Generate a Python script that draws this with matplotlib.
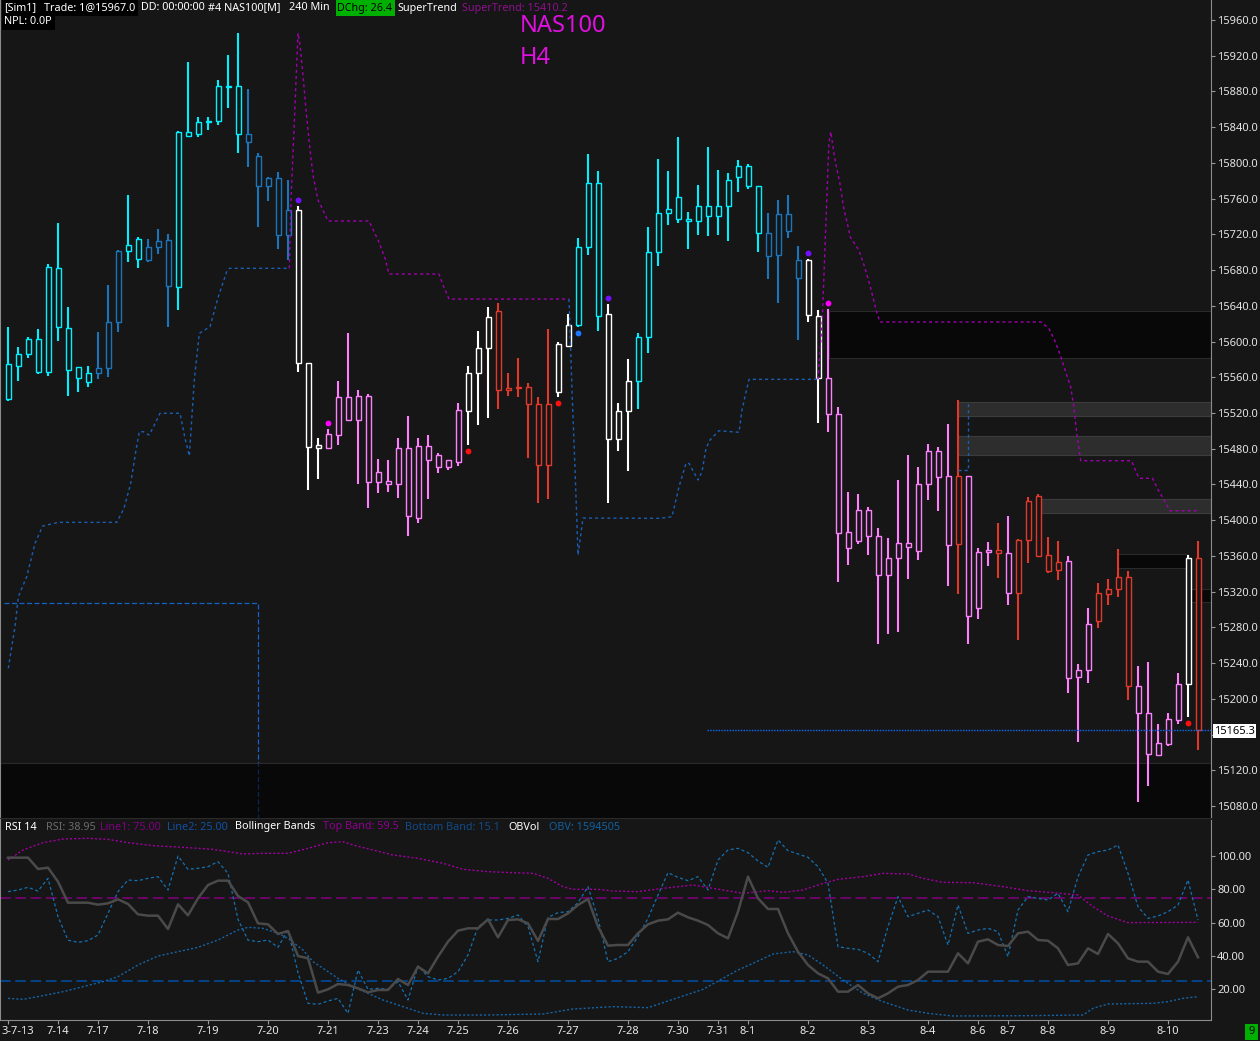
import numpy as np
import matplotlib
matplotlib.use("Agg")
import matplotlib.pyplot as plt
from matplotlib.patches import Rectangle

plt.rcParams['font.family'] = ['Noto Sans', 'DejaVu Sans']

BG = '#161616'
W, H = 1260, 1041

# ---- NAS100 H4 candles ----
opens = [15535.3, 15572.3, 15585.7, 15602.5, 15565.6, 15682.0, 15614.8, 15571.2, 15554.4, 15564.5,
         15570.1, 15621.6, 15701.0, 15692.1, 15705.5, 15705.5, 15713.4, 15660.7, 15834.3, 15832.0,
         15845.5, 15846.6, 15885.8, 15885.8, 15832.0, 15807.4, 15773.8, 15782.8, 15719.0, 15746.9,
         15575.6, 15483.8, 15481.2, 15495.7, 15537.6, 15512.5, 15539.0, 15443.1, 15443.5, 15440.8,
         15480.5, 15402.8, 15482.7, 15459.9, 15467.0, 15465.5, 15522.6, 15564.5, 15592.4, 15633.9,
         15548.0, 15547.7, 15549.1, 15529.7, 15461.5, 15543.9, 15595.4, 15618.9, 15705.5, 15777.2,
         15630.5, 15490.6, 15521.9, 15555.5, 15604.8, 15699.9, 15743.6, 15736.9, 15737.2, 15734.6,
         15751.4, 15740.2, 15751.4, 15783.9, 15796.2, 15773.8, 15721.2, 15696.6, 15742.5, 15691.0,
         15691.0, 15628.9, 15558.8, 15518.5, 15368.5, 15376.4, 15411.4, 15382.0, 15338.3, 15357.3,
         15374.1, 15365.2, 15440.2, 15477.1, 15449.1, 15373.0, 15449.1, 15301.3, 15364.1, 15366.3,
         15362.9, 15318.1, 15377.5, 15426.7, 15360.7, 15343.9, 15354.0, 15232.3, 15231.9, 15286.8,
         15317.7, 15323.3, 15336.0, 15214.0, 15183.8, 15137.4, 15149.8, 15176.6, 15216.3, 15357.3]
closes = [15574.5, 15585.7, 15602.5, 15565.6, 15683.1, 15616.0, 15567.8, 15558.8, 15564.5, 15570.1,
          15621.6, 15701.4, 15707.8, 15714.5, 15691.0, 15712.2, 15661.9, 15834.3, 15829.8, 15845.5,
          15847.3, 15885.8, 15885.3, 15832.0, 15823.1, 15773.8, 15782.8, 15719.0, 15746.9, 15575.6,
          15482.3, 15481.2, 15496.2, 15537.6, 15512.5, 15539.0, 15443.1, 15453.6, 15440.2, 15480.5,
          15404.4, 15482.7, 15467.0, 15472.6, 15459.9, 15523.4, 15564.5, 15592.4, 15627.5, 15545.4,
          15545.4, 15549.1, 15529.7, 15461.5, 15529.7, 15596.9, 15618.9, 15705.5, 15777.2, 15628.9,
          15490.6, 15521.9, 15555.5, 15604.8, 15699.9, 15743.6, 15748.1, 15761.5, 15735.0, 15751.4,
          15740.2, 15751.4, 15780.5, 15796.2, 15773.8, 15721.2, 15695.4, 15742.5, 15723.4, 15670.8,
          15629.4, 15558.8, 15518.5, 15385.3, 15386.4, 15411.4, 15382.0, 15338.3, 15357.3, 15374.1,
          15369.6, 15440.2, 15477.1, 15448.7, 15371.9, 15449.1, 15292.4, 15364.1, 15366.3, 15362.9,
          15318.1, 15377.8, 15421.1, 15360.2, 15343.4, 15352.9, 15223.0, 15224.1, 15283.4, 15318.5,
          15323.3, 15336.0, 15214.0, 15183.8, 15137.9, 15150.5, 15177.1, 15216.6, 15357.3, 15165.3]
highs = [15616.3, 15593.9, 15605.1, 15614.1, 15686.5, 15732.7, 15638.7, 15571.2, 15572.6, 15610.7,
         15663.3, 15702.5, 15764.1, 15717.1, 15714.8, 15726.0, 15720.4, 15835.4, 15913.0, 15851.1,
         15851.1, 15892.8, 15920.8, 15945.5, 15882.8, 15811.1, 15784.2, 15789.5, 15780.9, 15751.4,
         15575.6, 15492.0, 15502.1, 15555.8, 15609.2, 15545.8, 15541.3, 15468.5, 15467.4, 15492.0,
         15516.6, 15492.0, 15495.4, 15475.2, 15467.0, 15530.9, 15572.6, 15611.8, 15638.7, 15643.2,
         15564.8, 15581.6, 15553.6, 15537.9, 15614.1, 15599.5, 15630.8, 15715.9, 15810.0, 15790.9,
         15642.0, 15531.2, 15580.5, 15609.6, 15728.3, 15804.4, 15790.9, 15829.0, 15745.0, 15775.3,
         15817.8, 15792.1, 15788.7, 15803.3, 15798.8, 15773.8, 15743.9, 15758.5, 15764.1, 15707.0,
         15692.1, 15635.0, 15636.1, 15526.7, 15431.6, 15429.3, 15414.4, 15391.3, 15380.1, 15445.0,
         15473.0, 15459.5, 15485.3, 15481.9, 15507.7, 15534.6, 15449.1, 15368.5, 15375.2, 15396.9,
         15404.7, 15378.9, 15426.0, 15429.3, 15381.2, 15376.7, 15359.6, 15239.0, 15301.7, 15329.7,
         15334.2, 15367.7, 15343.1, 15236.7, 15241.2, 15171.8, 15184.1, 15228.9, 15360.7, 15376.7]
lows = [15533.4, 15556.2, 15581.9, 15563.3, 15561.8, 15601.0, 15539.4, 15543.9, 15549.5, 15558.4,
        15560.7, 15611.0, 15689.4, 15682.7, 15688.7, 15698.4, 15616.6, 15635.7, 15829.8, 15829.4,
        15837.2, 15842.8, 15861.8, 15811.4, 15795.8, 15728.6, 15757.7, 15704.0, 15691.6, 15566.2,
        15433.8, 15446.1, 15481.2, 15484.2, 15512.5, 15440.5, 15414.0, 15430.8, 15431.9, 15425.2,
        15382.6, 15397.2, 15424.1, 15452.5, 15456.2, 15461.0, 15484.2, 15506.9, 15514.7, 15524.8,
        15539.0, 15537.9, 15470.0, 15419.6, 15424.1, 15538.3, 15594.2, 15616.6, 15697.2, 15612.1,
        15419.6, 15477.8, 15455.4, 15524.8, 15587.5, 15684.9, 15730.8, 15733.1, 15704.0, 15719.6,
        15718.5, 15719.6, 15712.9, 15767.8, 15771.1, 15700.6, 15670.4, 15643.5, 15716.3, 15602.1,
        15622.2, 15509.1, 15499.1, 15331.1, 15350.2, 15373.7, 15361.4, 15261.7, 15272.9, 15275.1,
        15334.5, 15355.8, 15422.9, 15410.6, 15326.7, 15317.7, 15261.7, 15289.7, 15349.0, 15335.6,
        15305.4, 15266.2, 15352.4, 15359.6, 15341.2, 15333.4, 15206.9, 15152.0, 15218.1, 15279.6,
        15305.4, 15314.3, 15199.0, 15084.5, 15102.7, 15136.3, 15147.5, 15172.1, 15180.0, 15143.0]

# bar colour state: C cyan, B blue, W white, P pink, R red
bar_kind = ("C" * 9 + "B" * 3 + "C" * 2 + "B" * 3 + "C" * 7 + "B" * 5 + "W" * 3 + "P" * 14 +
            "W" * 3 + "R" * 6 + "W" * 2 + "C" * 3 + "W" * 3 + "C" * 13 + "B" * 4 + "W" * 2 +
            "P" * 13 + "R" + "P" * 3 + "R" + "P" + "R" * 5 + "P" * 3 + "R" * 4 + "P" * 5 + "W" + "R")
kind_color = {'C': '#00F0FF', 'B': '#1B75BB', 'W': '#FFFFFF', 'P': '#FF80FF', 'R': '#E0382A'}

# signal dots
sig_bar = [29, 60, 80, 32, 82, 46, 55, 118, 57]
sig_price = [15758.8, 15649.1, 15699.5, 15509.1, 15643.5, 15477.5, 15531.2, 15172.9, 15609.9]
sig_color = ['#7010FF', '#7010FF', '#7010FF', '#FF00FF', '#FF00FF',
             '#FF1010', '#FF1010', '#FF1010', '#1E78FF']

# supertrend pieces (bar position, price)
st_lo1_bar = [0.03, 0.7, 1.03, 1.87, 2.7, 3.47, 5.03, 10.87, 11.6, 12.27, 12.8, 13.13, 13.53,
              14.1, 14.47, 15.2, 17.2, 17.7, 18.13, 18.63, 19.13, 20.2, 21.03, 21.87, 22.13, 28.13]
st_lo1_val = [15234.2, 15280.8, 15314.3, 15336.7, 15374.1, 15393.5, 15397.6, 15397.6, 15413.3,
              15441.3, 15478.6, 15499.1, 15499.1, 15495.4, 15502.9, 15519.7, 15519.7, 15491.7,
              15471.9, 15556.9, 15609.2, 15616.6, 15650.2, 15678.2, 15682.0, 15682.0]
st_up1_bar = [28.13, 28.3, 28.6, 29.0, 29.2, 29.5, 29.8, 30.2, 30.5, 31.0, 31.4, 32.0, 36.1,
              37.0, 37.7, 38.1, 43.1, 43.5, 44.1, 56.1]
st_up1_val = [15682.0, 15758.5, 15837.0, 15945.5, 15932.0, 15898.4, 15859.2, 15814.5, 15786.5,
              15758.5, 15749.5, 15735.0, 15735.0, 15713.7, 15693.5, 15675.6, 15675.6, 15663.3,
              15647.6, 15647.6]
st_lo2_bar = [56.1, 56.4, 56.7, 57.0, 57.5, 65.2, 66.4, 67.1, 67.8, 68.1, 69.0, 69.4, 69.8,
              70.2, 71.1, 73.1, 73.4, 73.7, 74.1, 81.0]
st_lo2_val = [15647.6, 15545.8, 15458.4, 15361.0, 15402.4, 15402.1, 15403.9, 15437.5, 15463.7,
              15463.7, 15445.0, 15454.3, 15480.5, 15489.8, 15500.2, 15498.4, 15523.4, 15538.3,
              15557.7, 15557.7]
st_up2_bar = [81.0, 81.43, 81.9, 82.09, 82.28, 82.59, 82.9, 83.16, 83.55, 84.24, 85.08, 85.66,
              86.23, 86.81, 87.19, 103.32, 104.08, 104.66, 105.23, 105.81, 106.27, 106.58,
              106.88, 107.27, 112.34, 113.1, 114.45, 115.02, 115.8, 116.17, 119.05]
st_up2_val = [15557.7, 15624.1, 15766.0, 15822.0, 15835.0, 15810.8, 15792.1, 15779.0, 15751.0,
              15716.7, 15702.5, 15683.8, 15661.4, 15635.3, 15621.9, 15621.9, 15614.8, 15601.7,
              15584.9, 15564.5, 15549.4, 15527.1, 15497.2, 15466.6, 15466.6, 15446.9, 15446.9,
              15433.8, 15418.9, 15410.6, 15410.6]
st_lo3_bar = [95.0, 96.03, 96.03]
st_lo3_val = [15455.9, 15455.9, 15532.6]

level_price = 15306.9
level_from, level_to = -0.4, 25.03
last_price = 15165.3
last_from = 69.9

# zones
zone_x0 = [-0.8, 82.13, 95.0, 95.0, 103.03, 111.03, 118.03]
zone_x1 = [120.3, 120.3, 120.3, 120.3, 120.3, 118.03, 120.3]
zone_top = [15128.5, 15634.6, 15532.6, 15494.3, 15423.4, 15362.1, 15322.6]
zone_bot = [15040.0, 15581.2, 15516.6, 15473.0, 15407.7, 15346.4, 15308.7]
zone_dark = [True, True, False, False, False, True, True]

# ---- lower panel: RSI 14, Bollinger on RSI, OBV ----
rsi = [99.0, 99.0, 99.0, 92.2, 93.0, 84.6, 72.0, 72.0, 72.0, 70.8,
       71.6, 74.0, 71.2, 65.0, 64.2, 64.2, 56.2, 71.0, 64.4, 74.6,
       82.6, 85.2, 85.2, 76.0, 72.2, 59.6, 59.0, 53.2, 55.0, 40.0,
       38.6, 18.0, 20.0, 23.2, 22.6, 20.6, 18.2, 19.6, 19.6, 26.2,
       22.6, 33.6, 29.6, 39.6, 48.6, 55.2, 56.6, 56.6, 62.0, 51.2,
       61.6, 62.0, 59.6, 49.0, 62.2, 62.2, 65.6, 70.6, 74.2, 57.6,
       46.2, 46.6, 46.6, 53.6, 59.0, 61.2, 62.0, 66.0, 63.2, 61.2,
       58.6, 53.6, 50.6, 66.6, 87.6, 74.6, 68.2, 68.2, 53.6, 42.6,
       34.6, 29.6, 26.6, 18.6, 18.6, 22.6, 17.6, 14.6, 17.6, 21.6,
       22.6, 25.6, 30.6, 30.6, 30.6, 41.6, 35.6, 48.6, 50.0, 46.6,
       46.0, 53.6, 54.6, 49.6, 49.2, 44.6, 34.6, 35.6, 44.6, 41.2,
       53.2, 47.6, 38.6, 36.6, 36.6, 30.6, 29.2, 36.6, 51.2, 39.2]
obv = [78.6, 79.6, 81.2, 79.0, 86.6, 63.6, 49.5, 48.2, 49.2, 52.6,
       65.6, 78.6, 85.6, 85.2, 86.6, 87.6, 79.6, 100.0, 92.0, 92.6,
       93.6, 96.6, 89.6, 62.0, 49.5, 48.6, 49.6, 45.2, 55.6, 30.0,
       11.6, 11.0, 13.0, 14.6, 5.6, 31.6, 20.0, 20.6, 20.0, 24.6,
       13.6, 34.0, 27.6, 25.6, 26.6, 30.6, 40.6, 57.6, 61.6, 61.6,
       62.6, 64.6, 57.6, 36.6, 63.2, 66.0, 66.6, 72.0, 81.6, 62.6,
       36.6, 38.6, 42.6, 51.6, 62.6, 76.6, 90.0, 87.2, 85.2, 87.6,
       79.6, 97.6, 103.6, 104.6, 102.0, 97.0, 93.2, 109.6, 103.2, 101.2,
       99.2, 93.6, 83.6, 45.6, 44.6, 44.0, 41.6, 36.6, 57.6, 75.6,
       63.6, 65.6, 67.6, 63.6, 46.6, 70.6, 53.6, 55.6, 56.6, 54.6,
       39.6, 67.6, 75.6, 74.6, 73.6, 77.6, 66.6, 87.6, 100.6, 102.6,
       103.6, 106.6, 89.6, 69.6, 62.6, 64.0, 66.6, 70.6, 85.6, 61.6]
top_bar = [0, 1.5, 3.5, 5.5, 8, 10, 12, 14.5, 17.5, 20.5, 23.5, 25.5, 28, 30, 32, 33.5, 34.5,
           36.5, 38.5, 41, 43.5, 45.5, 48, 50.5, 52.5, 54, 55.5, 56.5, 59, 60.5, 63, 65.5, 68.5,
           70.5, 73.5, 76, 77.5, 79.5, 81.5, 83, 85.5, 87.5, 90, 91.5, 93.5, 96.5, 99.5, 102,
           104.5, 107, 108.5, 110, 112, 119]
top_val = [97.6, 103.6, 108.0, 110.2, 110.6, 110.0, 108.0, 106.2, 105.2, 104.0, 101.2, 101.6,
           101.6, 104.6, 108.0, 108.6, 106.6, 103.6, 100.6, 98.6, 95.6, 92.0, 90.6, 90.0, 89.6,
           86.6, 81.6, 80.0, 80.0, 79.0, 78.6, 80.6, 82.6, 80.6, 77.6, 79.2, 78.2, 79.6, 83.6,
           86.0, 87.6, 89.6, 89.2, 86.6, 84.2, 84.0, 81.6, 79.2, 78.0, 76.6, 69.6, 64.0, 60.0, 60.2]
bot_bar = [0, 1.5, 3.5, 5.5, 7.5, 9.5, 11, 13, 15, 17, 19, 21, 23, 24, 25.5, 27, 28, 29.5, 30.5,
           32, 33, 34.5, 36, 37.5, 39, 41.5, 43.5, 48, 53.5, 56.5, 60.5, 64, 65.5, 67.5, 69.5,
           71.5, 73, 74.5, 76.5, 78.5, 80, 81.5, 83.5, 85.5, 87.5, 90, 92, 94.5, 102, 107.5,
           108.5, 110, 114.5, 116, 117.5, 119]
bot_val = [14.6, 14.0, 16.2, 18.6, 21.6, 24.6, 27.6, 34.6, 40.0, 42.6, 45.2, 49.6, 55.6, 57.2,
           56.6, 53.6, 50.6, 43.6, 36.6, 30.6, 26.6, 21.6, 17.6, 13.6, 10.6, 5.6, 4.6, 4.6, 5.2,
           8.2, 9.6, 9.0, 12.0, 16.0, 20.0, 26.6, 31.6, 35.6, 41.2, 42.6, 40.6, 34.6, 25.6,
           17.6, 12.6, 7.6, 5.6, 4.0, 4.2, 4.6, 8.6, 11.2, 11.6, 12.6, 14.6, 15.6]

# first date is cut by the left border in the screenshot
first_date = "3-7-13"
date_bars = [5, 9, 14, 20, 26, 32, 37, 41, 45, 50, 56, 62, 67, 71, 74, 80, 86, 92, 97,
             100, 104, 110, 116]
date_labels = ["7-14", "7-17", "7-18", "7-19", "7-20", "7-21", "7-23", "7-24",
               "7-25", "7-26", "7-27", "7-28", "7-30", "7-31", "8-1", "8-2", "8-3", "8-4",
               "8-6", "8-7", "8-8", "8-9", "8-10"]

price_ticks = np.arange(15080, 15961, 40)
rsi_ticks = [20, 40, 60, 80, 100]


def ftext(x, y, s, **kw):
    return fig.text(x / W, 1 - y / H, s, **kw)


def fbox(x0, y0, x1, y1, color):
    fig.add_artist(Rectangle((x0 / W, 1 - y1 / H), (x1 - x0) / W, (y1 - y0) / H,
                             transform=fig.transFigure, fc=color, ec='none', zorder=2))


fig = plt.figure(figsize=(W / 100, H / 100), dpi=100, facecolor=BG)

# price panel: pixel rows 0..818, cols 0..1211
ax = fig.add_axes([0, 1 - 818 / H, 1211 / W, 818 / H], facecolor=BG)
ax.set_xlim(-0.8, 120.3)
ax.set_ylim(15066.6, 15982.4)

ax.plot([level_from, level_to, level_to], [level_price, level_price, 15040],
        color='#1464C8', lw=0.9, dashes=(4, 2), zorder=1)

for x0, x1, t, b, dk in zip(zone_x0, zone_x1, zone_top, zone_bot, zone_dark):
    if dk:
        ax.add_patch(Rectangle((x0, b), x1 - x0, t - b, fc=(0, 0, 0, 0.6),
                               ec='#2a2a2a', lw=0.8, zorder=2))
    else:
        ax.add_patch(Rectangle((x0, b), x1 - x0, t - b, fc=(1, 1, 1, 0.1),
                               ec='#3c3c3c', lw=0.8, zorder=2))

n = len(opens)
xs = np.arange(n)
cols = [kind_color[k] for k in bar_kind]
ax.vlines(xs, lows, highs, colors=cols, lw=1.5, zorder=3)
for i in range(n):
    lo = min(opens[i], closes[i])
    hi = max(opens[i], closes[i])
    ax.add_patch(Rectangle((i - 0.25, lo), 0.5, max(hi - lo, 0.8), fc=BG, ec=cols[i],
                           lw=1.0, zorder=4))

blue_st = '#1A5FB4'
mag_st = '#A000B0'
ax.plot(st_lo1_bar, st_lo1_val, color=blue_st, lw=1.0, dashes=(2.2, 2.2), zorder=5)
ax.plot(st_up1_bar, st_up1_val, color=mag_st, lw=1.0, dashes=(2.2, 2.2), zorder=5)
ax.plot(st_lo2_bar, st_lo2_val, color=blue_st, lw=1.0, dashes=(2.2, 2.2), zorder=5)
ax.plot(st_up2_bar, st_up2_val, color=mag_st, lw=1.0, dashes=(2.2, 2.2), zorder=5)
ax.plot(st_lo3_bar, st_lo3_val, color=blue_st, lw=1.0, dashes=(2.2, 2.2), zorder=5)

ax.plot([last_from, 120.3], [last_price, last_price], color='#0A6CFF', lw=1.0,
        dashes=(1, 1), zorder=5)

for b, p, c in zip(sig_bar, sig_price, sig_color):
    ax.plot(b, p, 'o', color=c, ms=4.2, mec='none', zorder=6)

ax.set_xticks([])
ax.yaxis.tick_right()
ax.set_yticks(price_ticks)
# the 15160 label sits under the last-price tag
ax.set_yticklabels(["" if t == 15160 else f"{t:.1f}" for t in price_ticks])
ax.tick_params(axis='y', colors='#9a9a9a', labelcolor='#e4e4e4', length=3, width=0.8,
               pad=1.5, labelsize=8)
ax.spines['top'].set_visible(False)
ax.spines['right'].set_color('#8c8c8c')
ax.spines['left'].set_color('#8c8c8c')
ax.spines['left'].set_linewidth(1.5)
ax.spines['bottom'].set_color('#2a2a2a')

# indicator panel: pixel rows 820..1020
ar = fig.add_axes([0, 1 - 1020 / H, 1211 / W, 200 / H], facecolor=BG)
ar.set_xlim(-0.8, 120.3)
ar.set_ylim(1.6, 121.6)
ar.axhline(75, color='#800080', lw=1.1, dashes=(7, 3), zorder=1)
ar.axhline(25, color='#0050A8', lw=1.1, dashes=(7, 3), zorder=1)
ar.plot(top_bar, top_val, color='#A000A0', lw=1.0, dashes=(1.5, 1.5), zorder=2)
ar.plot(bot_bar, bot_val, color='#1565A8', lw=1.0, dashes=(1.5, 1.5), zorder=2)
ar.plot(xs, obv, color='#1570B0', lw=0.9, dashes=(2.5, 2), zorder=2)
ar.plot(xs, rsi, color='#4a4a4a', lw=1.8, zorder=3)

ar.yaxis.tick_right()
ar.set_yticks(rsi_ticks)
ar.set_yticklabels([f"{t:.2f}" for t in rsi_ticks])
ar.set_xticks([0] + date_bars)
ar.set_xticklabels([""] + date_labels)
ar.tick_params(axis='y', colors='#9a9a9a', labelcolor='#e4e4e4', length=3, width=0.8,
               pad=1.5, labelsize=8)
ar.tick_params(axis='x', colors='#9a9a9a', labelcolor='#e8e8e8', length=3, width=0.8,
               pad=1.5, labelsize=8)
ar.spines['top'].set_visible(False)
for s in ['right', 'bottom']:
    ar.spines[s].set_color('#8c8c8c')
ar.spines['left'].set_color('#8c8c8c')
ar.spines['left'].set_linewidth(1.5)
ftext(1, 1032, first_date, color='#e8e8e8', fontsize=8, va='center', ha='left')

# ---- header texts ----
fs = 7.8
fbox(2, 0, 138, 16, '#000000')
fbox(2, 16, 55, 30, '#000000')
fbox(336, 0, 395, 16, '#00B000')
row1 = [("[Sim1]", 4, '#ffffff'), ("Trade: 1@15967.0", 44, '#ffffff'),
        ("DD: 00:00:00", 141, '#ffffff'), ("#4 NAS100[M]", 208, '#ffffff'),
        ("240 Min", 289, '#ffffff'), ("DChg: 26.4", 337, '#000000'),
        ("SuperTrend", 397, '#ffffff'), ("SuperTrend: 15410.2", 462, '#8E108E')]
for s, x, c in row1:
    ftext(x, 8, s, color=c, fontsize=fs, va='center', ha='left', zorder=5)
ftext(4, 22, "NPL: 0.0P", color='#ffffff', fontsize=fs, va='center', ha='left', zorder=5)

ftext(520, 26, "NAS100", color='#E010E0', fontsize=17, va='center', ha='left')
ftext(520, 58, "H4", color='#E010E0', fontsize=17, va='center', ha='left')

row_rsi = [("RSI 14", 5, '#ffffff'), ("RSI: 38.95", 46, '#6a6a6a'),
           ("Line1: 75.00", 100, '#800080'), ("Line2: 25.00", 167, '#1050A0'),
           ("Bollinger Bands", 235, '#ffffff'), ("Top Band: 59.5", 323, '#900090'),
           ("Bottom Band: 15.1", 405, '#104A8A'), ("OBVol", 508, '#ffffff'),
           ("OBV: 1594505", 549, '#1060A0')]
for s, x, c in row_rsi:
    ftext(x, 827, s, color=c, fontsize=fs, va='center', ha='left')

# last price tag
ftext(1214, 731, f"{last_price:.1f}", color='#000000', fontsize=8, va='center', ha='left',
      bbox=dict(boxstyle='square,pad=0.12', fc='#ffffff', ec='none'), zorder=10)

# corner tag
fbox(1245, 1024, 1258, 1040, '#00B000')
ftext(1251.5, 1032, "9", color='#000000', fontsize=8, va='center', ha='center', zorder=5)

fig.savefig("out.png", dpi=100, facecolor=BG)
